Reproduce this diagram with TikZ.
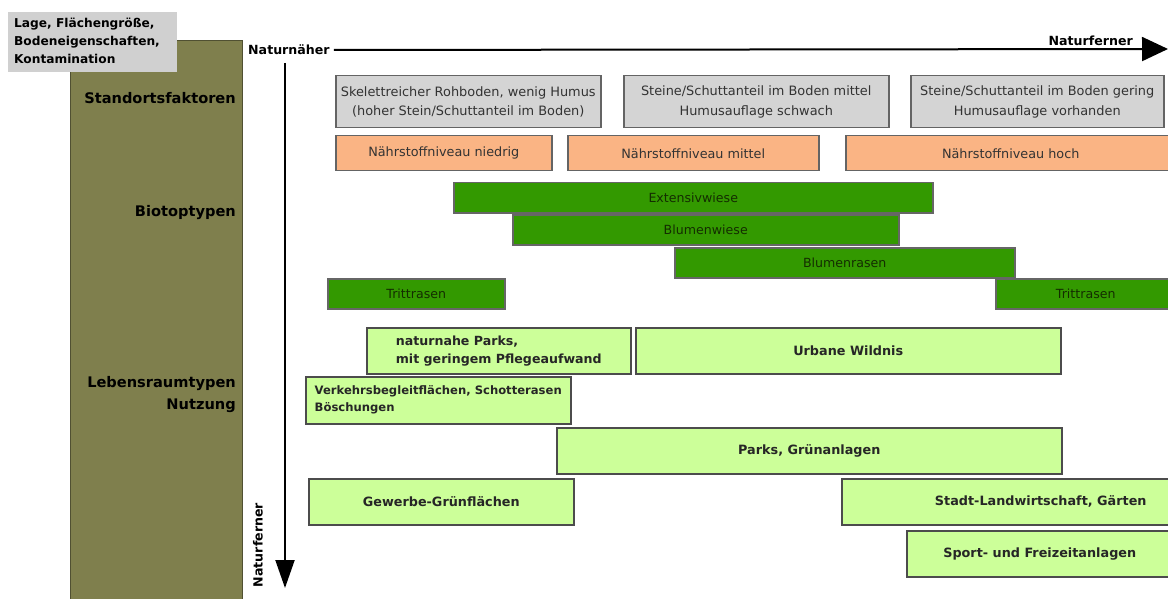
\documentclass[tikz,border=0pt]{standalone}
\usepackage{fontspec}
\setmainfont{DejaVu Sans}
\usetikzlibrary{arrows.meta}
\definecolor{olive}{RGB}{127,127,77}
\definecolor{oliveedge}{RGB}{80,80,50}
\definecolor{lbgray}{RGB}{208,208,208}
\definecolor{boxgray}{RGB}{212,212,212}
\definecolor{edgegray}{RGB}{100,100,100}
\definecolor{orangefill}{RGB}{250,180,132}
\definecolor{darkgreen}{RGB}{51,153,0}
\definecolor{lightgreen}{RGB}{204,255,153}
\definecolor{txtgreen}{RGB}{20,45,0}
\tikzset{
  rbox/.style={rectangle, inner sep=0pt, anchor=north west, line width=1.5pt},
  soilbox/.style={rbox, draw=edgegray, fill=boxgray, font=\fontsize{12.9}{19.5}\selectfont, text=black!80, align=center},
  nutbox/.style={rbox, draw=edgegray, fill=orangefill, font=\fontsize{12.8}{15}\selectfont, text=black!80},
  biobar/.style={rbox, draw=black!60, fill=darkgreen, font=\fontsize{12.6}{15}\selectfont, text=txtgreen},
  usebox/.style={rbox, draw=black!70, fill=lightgreen, font=\bfseries\fontsize{12.8}{17}\selectfont, text=black!85, align=left},
  sidelabel/.style={anchor=east, font=\bfseries\fontsize{14.6}{22}\selectfont, text=black, align=right, inner sep=0pt},
  axislabel/.style={font=\bfseries\fontsize{12.6}{14}\selectfont, inner sep=0pt},
  axisarrow/.style={line width=2pt, -{Triangle[length=26pt, width=24pt]}},
}
\begin{document}
\begin{tikzpicture}[x=1pt, y=-1pt]
\useasboundingbox (0,0) rectangle (1168,599);
% olive column
\node[rbox, draw=oliveedge, fill=olive, minimum width=172pt, minimum height=575pt, line width=1.2pt] (col) at (70,40) {};
\node[rbox, fill=lbgray, minimum width=169pt, minimum height=60pt, line width=0pt] (lbl) at (8,12) {};
\node[anchor=north west, inner sep=0pt, align=left, font=\bfseries\fontsize{12.2}{18}\selectfont] (lbltext) at (14,18) {Lage, Flächengröße,\\Bodeneigenschaften,\\Kontamination};
\node[sidelabel] (sf) at (236,98) {Standortsfaktoren};
\node[sidelabel] (bt) at (236,213) {Biotoptypen};
\node[sidelabel] (lr) at (236,395) {Lebensraumtypen\\Nutzung};
% axes
\node[axislabel, anchor=west] (nah) at (248,50) {Naturnäher};
\coordinate (hend) at (1168,49);
\draw[axisarrow] (nah.east) ++(4pt,0) coordinate (hstart) -- (hend);
\node[axislabel, anchor=south east] (fern) at (1133,46) {Naturferner};
\coordinate (vstart) at (285,63);
\coordinate (vend) at (285,588);
\draw[axisarrow, -{Triangle[length=28pt, width=19pt]}] (vstart) -- (vend);
\node[axislabel, rotate=90] (vfern) at (258,545) {Naturferner};
% soil
\node[soilbox, minimum width=265pt, minimum height=52pt] (s1) at (335,75) {Skelettreicher Rohboden, wenig Humus\\(hoher Stein/Schuttanteil im Boden)};
\node[soilbox, minimum width=265pt, minimum height=52pt] (s2) at (623,75) {Steine/Schuttanteil im Boden mittel\\Humusauflage schwach};
\node[soilbox, minimum width=253pt, minimum height=52pt] (s3) at (910,75) {Steine/Schuttanteil im Boden gering\\Humusauflage vorhanden};
% nutrients
\node[nutbox, minimum width=216pt, minimum height=35pt] (n1) at (335,135) {Nährstoffniveau niedrig};
\node[nutbox, minimum width=251pt, minimum height=35pt] (n2) at (567,135) {Nährstoffniveau mittel};
\node[nutbox, minimum width=330pt, minimum height=35pt] (n3) at (845,135) {Nährstoffniveau hoch};
% biotopes
\node[biobar, minimum width=479pt, minimum height=30pt] (ext) at (453,182) {Extensivwiese};
\node[biobar, minimum width=386pt, minimum height=30pt] (blw) at (512,214) {Blumenwiese};
\node[biobar, minimum width=340pt, minimum height=30pt] (blr) at (674,247) {Blumenrasen};
\node[biobar, minimum width=177pt, minimum height=30pt] (tr1) at (327,278) {Trittrasen};
\node[biobar, minimum width=180pt, minimum height=30pt] (tr2) at (995,278) {Trittrasen};
% habitat / use
\node[usebox, minimum width=264pt, minimum height=46pt, font=\bfseries\fontsize{12.6}{18}\selectfont] (np) at (366,327) {naturnahe Parks,\\mit geringem Pflegeaufwand};
\node[usebox, minimum width=425pt, minimum height=46pt] (uw) at (635,327) {Urbane Wildnis};
\node[usebox, minimum width=265pt, minimum height=47pt, font=\bfseries\fontsize{11.6}{17}\selectfont] (vb) at (305,376) {Verkehrsbegleitflächen, Schotterasen\\Böschungen};
\node[usebox, minimum width=505pt, minimum height=46pt] (pg) at (556,427) {Parks, Grünanlagen};
\node[usebox, minimum width=265pt, minimum height=46pt] (gg) at (308,478) {Gewerbe-Grünflächen};
\node[usebox, minimum width=398pt, minimum height=46pt] (sl) at (841,478) {Stadt-Landwirtschaft, Gärten};
\node[usebox, minimum width=266pt, minimum height=46pt] (sp) at (906,530) {Sport- und Freizeitanlagen};
\end{tikzpicture}
\end{document}
